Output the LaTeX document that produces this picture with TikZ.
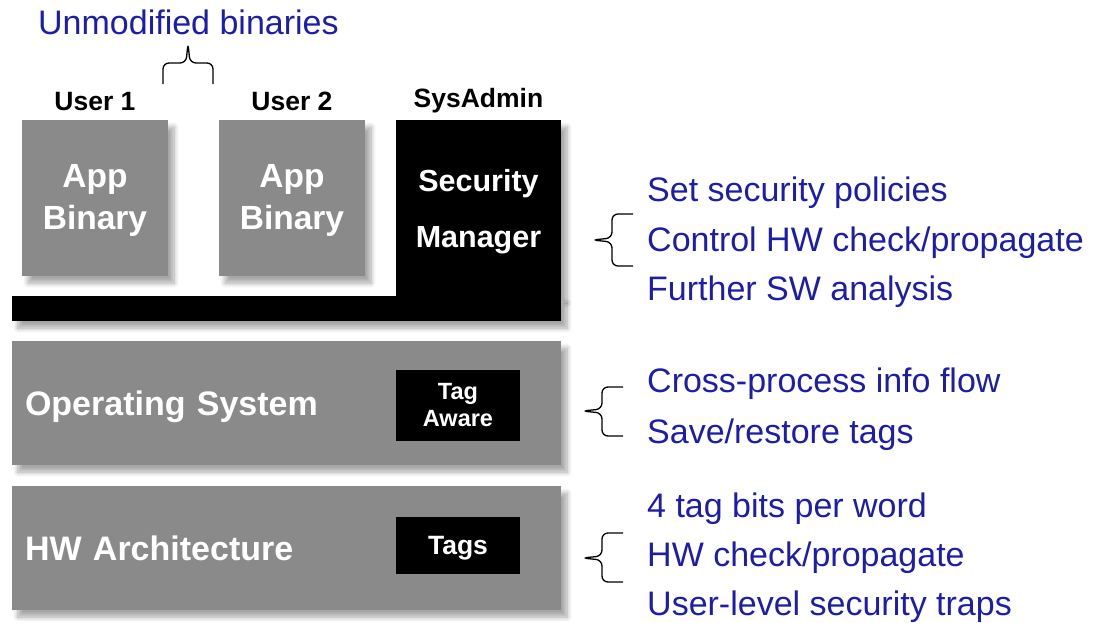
\documentclass[tikz,border=0pt]{standalone}
\usepackage{fontspec}
\setmainfont{Liberation Sans}
\usetikzlibrary{positioning, calc, shadows.blur}
\definecolor{noteblue}{RGB}{28,30,170}
\definecolor{layergray}{RGB}{138,138,138}

\begin{document}
\begin{tikzpicture}[
  x=1pt, y=-1pt,
  boxshadow/.style = {blur shadow={shadow xshift=6pt, shadow yshift=-7pt,
                      shadow blur radius=5pt, shadow blur steps=8, shadow opacity=35}},
  appbox/.style  = {fill=layergray, boxshadow, minimum width=146pt, minimum height=156pt,
                    inner sep=0pt, outer sep=0pt, text=white, align=center, text depth=2pt,
                    font=\bfseries\fontsize{33.5}{42}\selectfont},
  secbox/.style  = {fill=black, boxshadow, inner sep=0pt, outer sep=0pt, text=white,
                    align=center, text depth=0pt, font=\bfseries\fontsize{30.5}{56}\selectfont},
  layer/.style   = {fill=layergray, boxshadow, minimum width=549pt, minimum height=124pt,
                    inner xsep=13pt, inner ysep=0pt, outer sep=0pt, text width=523pt,
                    text depth=0pt, align=left, text=white,
                    font=\bfseries\fontsize{34}{40}\selectfont},
  tagbox/.style  = {fill=black, minimum width=124pt, inner sep=0pt, outer sep=0pt,
                    text=white, align=center, anchor=north west},
  userlbl/.style = {font=\bfseries\fontsize{26.5}{30}\selectfont, inner sep=0pt, anchor=base},
  note/.style    = {text=noteblue, font=\fontsize{34}{40}\selectfont, inner sep=0pt,
                    anchor=base west},
  brc/.style     = {line width=1.3pt, rounded corners=6pt},
]
\useasboundingbox (0,0) rectangle (1098,622);

% ── User level ───────────────────────────────────────────────────────────────
\node[appbox]                  (app1) at (95,198) {App\\Binary};
\node[appbox, right=51pt of app1] (app2)        {App\\Binary};
\node[secbox, minimum width=165pt, minimum height=176pt, anchor=north west]
      (secmgr) at (396,120) {Security\\Manager};
\node[secbox, minimum width=549pt, minimum height=25pt, anchor=north west]
      (bar) at (12,296) {};

\node[userlbl] (user1)  at ([yshift=10pt]app1.north)   {User 1};
\node[userlbl] (user2)  at ([yshift=10pt]app2.north)   {User 2};
\node[userlbl] (sysadm) at ([yshift=13pt]secmgr.north) {SysAdmin};

\node[note] (unmod) at (38,34) {Unmodified binaries};
\draw[brc] (163,84) -- (163,63) -- (186,63) -- (188,43) -- (190,63) -- (213,63) -- (213,84);

% ── OS and hardware layers ───────────────────────────────────────────────────
\node[layer, anchor=north west] (os) at (12,341) {Operating System};
\node[layer, below=21pt of os]  (hw)             {HW Architecture};

\node[tagbox, minimum height=71pt, font=\bfseries\fontsize{23.5}{27}\selectfont]
      (tagaw) at (396,370) {Tag\\Aware};
\node[tagbox, minimum height=57pt, text depth=0pt, font=\bfseries\fontsize{26.5}{30}\selectfont]
      (tags)  at (396,517) {Tags};

% ── Notes on the right ───────────────────────────────────────────────────────
\node[note] (setpol)   at (647,201)                      {Set security policies};
\node[note] (ctrlhw)   at ([yshift=-50pt]setpol.base west) {Control HW check/propagate};
\node[note] (swana)    at ([yshift=-49pt]ctrlhw.base west) {Further SW analysis};
\draw[brc] (633,214) -- (612,214) -- (612,238) -- (592,240) -- (612,242) -- (612,266) -- (633,266);

\node[note] (xproc)    at (647,392)                       {Cross-process info flow};
\node[note] (saverest) at ([yshift=-51pt]xproc.base west)  {Save/restore tags};
\draw[brc] (623,387) -- (602,387) -- (602,409) -- (582,411) -- (602,413) -- (602,436) -- (623,436);

\node[note] (tagbits)  at (647,517)                       {4 tag bits per word};
\node[note] (hwchk)    at ([yshift=-49pt]tagbits.base west) {HW check/propagate};
\node[note] (traps)    at ([yshift=-49pt]hwchk.base west)  {User-level security traps};
\draw[brc] (623,533) -- (602,533) -- (602,556) -- (582,558) -- (602,560) -- (602,582) -- (623,582);

\end{tikzpicture}
\end{document}
